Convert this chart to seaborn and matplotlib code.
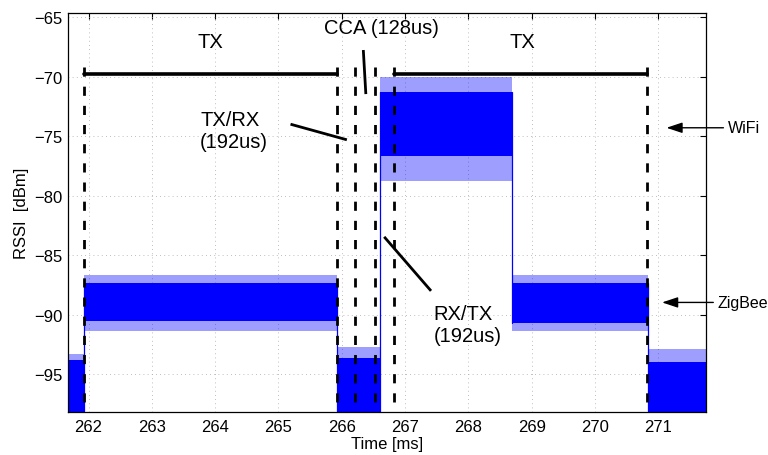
import matplotlib
matplotlib.use("Agg")
import matplotlib.pyplot as plt
import seaborn as sns
import pandas as pd

# ---- data ----
# RSSI trace segments (time in ms, levels in dBm): dense band (core) and spike envelope
seg_start = [261.67, 261.92, 265.93, 266.60, 268.69, 270.84]
seg_end   = [261.92, 265.93, 266.60, 268.69, 270.84, 271.75]
core_hi   = [-93.8, -87.3, -93.6, -71.3, -87.3, -94.0]
core_lo   = [-98.5, -90.5, -98.5, -76.7, -90.7, -98.5]
spike_hi  = [-93.3, -86.7, -92.7, -70.0, -86.7, -92.9]
spike_lo  = [-98.5, -91.4, -98.5, -78.8, -91.4, -98.5]

# phase markers (vertical dashed lines) and TX bars
marker_x = [261.92, 265.92, 266.21, 266.53, 266.83, 270.83]
marker_top = -69.2
tx_start = [261.92, 266.83]
tx_end = [265.92, 270.83]
tx_level = -69.75

# pointer lines for annotations
ptr_x0 = [266.34, 265.19, 266.67]
ptr_y0 = [-67.77, -74.0, -83.46]
ptr_x1 = [266.38, 266.08, 267.41]
ptr_y1 = [-71.47, -75.31, -88.0]

xticks = [262, 263, 264, 265, 266, 267, 268, 269, 270, 271]
yticks = [-95, -90, -85, -80, -75, -70, -65]

sns.set_style("white")
plt.rcParams["font.family"] = ["Liberation Sans", "DejaVu Sans"]
plt.rcParams["text.color"] = "k"
plt.rcParams["axes.labelcolor"] = "k"
plt.rcParams["xtick.color"] = "k"
plt.rcParams["ytick.color"] = "k"

fig = plt.figure(figsize=(7.68, 4.56), dpi=100)
ax = fig.add_axes([0.0882, 0.0936, 0.8307, 0.8757])

blue = "#0000ff"
for s, e, ch, cl, sh, sl in zip(seg_start, seg_end, core_hi, core_lo, spike_hi, spike_lo):
    ax.fill_between([s, e], [cl, cl], [ch, ch], color=blue, lw=0, zorder=2)
    ax.fill_between([s, e], [ch, ch], [sh, sh], color=blue, alpha=0.38, lw=0, zorder=2)
    ax.fill_between([s, e], [sl, sl], [cl, cl], color=blue, alpha=0.38, lw=0, zorder=2)

# transitions between consecutive segments
for i in range(len(seg_start) - 1):
    lo = min(core_lo[i], core_lo[i + 1])
    hi = max(core_hi[i], core_hi[i + 1])
    ax.plot([seg_end[i], seg_end[i]], [lo, hi], color=blue, lw=0.9, zorder=2)

# dashed phase markers
for x in marker_x:
    ax.plot([x, x], [marker_top, -99], color="k", lw=2.0,
            linestyle=(0, (3.3, 3.6)), zorder=4, solid_capstyle="butt",
            dash_capstyle="butt")

# TX bars
for s, e in zip(tx_start, tx_end):
    df = pd.DataFrame({"t": [s, e], "v": [tx_level, tx_level]})
    sns.lineplot(data=df, x="t", y="v", ax=ax, color="k", lw=2.6, zorder=4)

# pointer lines
for x0, y0, x1, y1 in zip(ptr_x0, ptr_y0, ptr_x1, ptr_y1):
    ax.plot([x0, x1], [y0, y1], color="k", lw=2.0, zorder=4, solid_capstyle="butt")

fs = 14.5
ax.text(263.93, -67.5, "TX", fontsize=fs, ha="center", va="baseline")
ax.text(268.85, -67.5, "TX", fontsize=fs, ha="center", va="baseline")
ax.text(266.63, -66.34, "CCA (128us)", fontsize=fs, ha="center", va="baseline")
ax.text(263.76, -74.08, "TX/RX", fontsize=fs, ha="left", va="baseline")
ax.text(263.76, -75.9, "(192us)", fontsize=fs, ha="left", va="baseline")
ax.text(267.45, -90.38, "RX/TX", fontsize=fs, ha="left", va="baseline")
ax.text(267.45, -92.2, "(192us)", fontsize=fs, ha="left", va="baseline")

arrow = dict(arrowstyle="-|>,head_length=0.6,head_width=0.2", color="k", lw=1.0,
             mutation_scale=16, shrinkA=0, shrinkB=0)
ax.annotate("", xy=(271.13, -74.3), xytext=(272.03, -74.3),
            arrowprops=arrow, annotation_clip=False)
ax.text(272.1, -74.3, "WiFi", fontsize=11.5, ha="left", va="center", clip_on=False)
ax.annotate("", xy=(271.06, -88.97), xytext=(271.87, -88.97),
            arrowprops=arrow, annotation_clip=False)
ax.text(271.93, -88.97, "ZigBee", fontsize=11.5, ha="left", va="center", clip_on=False)

ax.set_xlim(261.67, 271.75)
ax.set_ylim(-98.2, -64.66)
ax.set_xticks(xticks)
ax.set_yticks(yticks)
ax.grid(True, color="#a8a8a8", lw=0.6, linestyle=(0, (1, 4)))
ax.tick_params(direction="in", length=4, width=0.8, top=True, right=True,
               labelsize=12, colors="k")
ax.tick_params(axis="x", pad=5)
ax.tick_params(axis="y", pad=3.5)
for sp in ax.spines.values():
    sp.set_color("k")
    sp.set_linewidth(0.9)
ax.set_xlabel("Time [ms]", fontsize=12, labelpad=1)
ax.set_ylabel("RSSI  [dBm]", fontsize=12, labelpad=4)

fig.savefig("out.png", dpi=100)
